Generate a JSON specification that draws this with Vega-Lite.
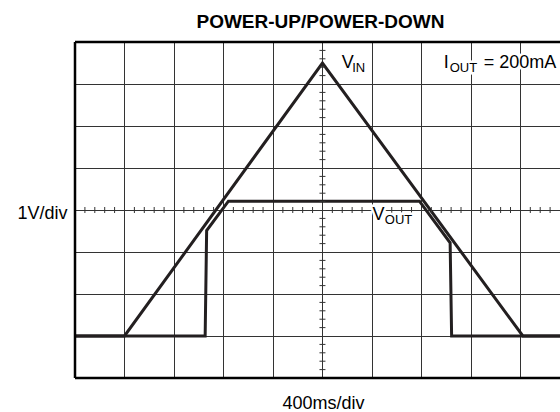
{
  "$schema": "https://vega.github.io/schema/vega-lite/v6.json",
  "width": 485,
  "height": 336,
  "autosize": {"type": "none"},
  "padding": {"left": 75, "top": 42, "right": 0, "bottom": 34},
  "background": "white",
  "config": {"view": {"stroke": null}, "font": "Liberation Sans"},
  "title": {"text": "POWER-UP/POWER-DOWN", "fontSize": 19, "fontWeight": "bold", "font": "Liberation Sans", "color": "#000000", "anchor": "middle", "offset": -6, "baseline": "alphabetic", "dx": 3},
  "datasets": {
    "traces": [
      {"series": "VIN", "i": 0, "x": 0, "y": 1},
      {"series": "VIN", "i": 1, "x": 1, "y": 1},
      {"series": "VIN", "i": 2, "x": 5, "y": 7.5},
      {"series": "VIN", "i": 3, "x": 9.05, "y": 1},
      {"series": "VIN", "i": 4, "x": 9.8, "y": 1},
      {"series": "VOUT", "i": 0, "x": 0, "y": 1},
      {"series": "VOUT", "i": 1, "x": 2.63, "y": 1},
      {"series": "VOUT", "i": 2, "x": 2.66, "y": 3.51},
      {"series": "VOUT", "i": 3, "x": 3.1, "y": 4.21},
      {"series": "VOUT", "i": 4, "x": 6.96, "y": 4.21},
      {"series": "VOUT", "i": 5, "x": 7.58, "y": 3.22},
      {"series": "VOUT", "i": 6, "x": 7.61, "y": 1},
      {"series": "VOUT", "i": 7, "x": 9.8, "y": 1}
    ],
    "minorH": [
      {"t": 0.2}, {"t": 0.4}, {"t": 0.6}, {"t": 0.8},
      {"t": 1.2}, {"t": 1.4}, {"t": 1.6}, {"t": 1.8},
      {"t": 2.2}, {"t": 2.4}, {"t": 2.6}, {"t": 2.8},
      {"t": 3.2}, {"t": 3.4}, {"t": 3.6}, {"t": 3.8},
      {"t": 4.2}, {"t": 4.4}, {"t": 4.6}, {"t": 4.8},
      {"t": 5.2}, {"t": 5.4}, {"t": 5.6}, {"t": 5.8},
      {"t": 6.2}, {"t": 6.4}, {"t": 6.6}, {"t": 6.8},
      {"t": 7.2}, {"t": 7.4}, {"t": 7.6}, {"t": 7.8},
      {"t": 8.2}, {"t": 8.4}, {"t": 8.6}, {"t": 8.8},
      {"t": 9.2}, {"t": 9.4}, {"t": 9.6}
    ],
    "minorV": [
      {"t": 0.2}, {"t": 0.4}, {"t": 0.6}, {"t": 0.8},
      {"t": 1.2}, {"t": 1.4}, {"t": 1.6}, {"t": 1.8},
      {"t": 2.2}, {"t": 2.4}, {"t": 2.6}, {"t": 2.8},
      {"t": 3.2}, {"t": 3.4}, {"t": 3.6}, {"t": 3.8},
      {"t": 4.2}, {"t": 4.4}, {"t": 4.6}, {"t": 4.8},
      {"t": 5.2}, {"t": 5.4}, {"t": 5.6}, {"t": 5.8},
      {"t": 6.2}, {"t": 6.4}, {"t": 6.6}, {"t": 6.8},
      {"t": 7.2}, {"t": 7.4}, {"t": 7.6}, {"t": 7.8}
    ],
    "labels": [
      {"text": "V", "x": 5.39, "y": 7.39, "part": "main"},
      {"text": "IN", "x": 5.6, "y": 7.29, "part": "sub"},
      {"text": "I", "x": 7.45, "y": 7.39, "part": "main"},
      {"text": "OUT", "x": 7.57, "y": 7.29, "part": "sub"},
      {"text": "= 200mA", "x": 8.26, "y": 7.39, "part": "main"},
      {"text": "V", "x": 6.01, "y": 3.76, "part": "main"},
      {"text": "OUT", "x": 6.26, "y": 3.66, "part": "sub"}
    ]
  },
  "layer": [
    {
      "data": {"name": "traces"},
      "mark": {"type": "line", "strokeWidth": 3, "color": "#231f20", "clip": true},
      "encoding": {
        "x": {
          "field": "x", "type": "quantitative",
          "scale": {"domain": [0, 9.8], "nice": false, "zero": false},
          "axis": {
            "values": [1, 2, 3, 4, 5, 6, 7, 8, 9],
            "grid": true, "gridColor": "#333333", "gridWidth": 1,
            "ticks": false, "labels": false, "domain": false,
            "title": "400ms/div", "titleFontSize": 18, "titleFontWeight": "normal",
            "titleFont": "Liberation Sans", "titleColor": "#000000",
            "titleX": 248, "titleY": 30, "titleAlign": "center", "titleBaseline": "alphabetic"
          }
        },
        "y": {
          "field": "y", "type": "quantitative",
          "scale": {"domain": [0, 8], "nice": false, "zero": false},
          "axis": {
            "values": [1, 2, 3, 4, 5, 6, 7],
            "grid": true, "gridColor": "#333333", "gridWidth": 1,
            "ticks": false, "labels": false, "domain": false,
            "title": "1V/div", "titleFontSize": 18, "titleFontWeight": "normal",
            "titleFont": "Liberation Sans", "titleColor": "#000000", "titleAngle": 0,
            "titleX": -8, "titleY": 176, "titleAlign": "right", "titleBaseline": "alphabetic"
          }
        },
        "detail": {"field": "series", "type": "nominal"},
        "order": {"field": "i", "type": "quantitative"}
      }
    },
    {
      "data": {"name": "minorH"},
      "mark": {"type": "tick", "orient": "vertical", "size": 6, "thickness": 1, "color": "#333333", "opacity": 1},
      "encoding": {
        "x": {"field": "t", "type": "quantitative"},
        "y": {"datum": 4}
      }
    },
    {
      "data": {"name": "minorV"},
      "mark": {"type": "tick", "orient": "horizontal", "size": 6, "thickness": 1, "color": "#333333", "opacity": 1},
      "encoding": {
        "y": {"field": "t", "type": "quantitative"},
        "x": {"datum": 5}
      }
    },
    {
      "data": {"values": [{"b": "left"}]},
      "mark": {"type": "rule", "strokeWidth": 2.5, "color": "#000000"},
      "encoding": {"x": {"datum": 0}}
    },
    {
      "data": {"values": [{"b": "top"}]},
      "mark": {"type": "rule", "strokeWidth": 2.5, "color": "#000000"},
      "encoding": {"y": {"datum": 8}}
    },
    {
      "data": {"values": [{"b": "bottom"}]},
      "mark": {"type": "rule", "strokeWidth": 2.5, "color": "#000000"},
      "encoding": {"y": {"datum": 0}}
    },
    {
      "data": {"name": "labels"},
      "mark": {"type": "text", "align": "left", "baseline": "alphabetic", "font": "Liberation Sans", "stroke": "white", "strokeWidth": 5, "fill": "white"},
      "encoding": {
        "x": {"field": "x", "type": "quantitative"},
        "y": {"field": "y", "type": "quantitative"},
        "text": {"field": "text"},
        "size": {"field": "part", "type": "nominal", "scale": {"domain": ["main", "sub"], "range": [18, 13]}, "legend": null}
      }
    },
    {
      "data": {"name": "labels"},
      "mark": {"type": "text", "align": "left", "baseline": "alphabetic", "font": "Liberation Sans", "fill": "#000000"},
      "encoding": {
        "x": {"field": "x", "type": "quantitative"},
        "y": {"field": "y", "type": "quantitative"},
        "text": {"field": "text"},
        "size": {"field": "part", "type": "nominal", "scale": {"domain": ["main", "sub"], "range": [18, 13]}, "legend": null}
      }
    }
  ]
}
